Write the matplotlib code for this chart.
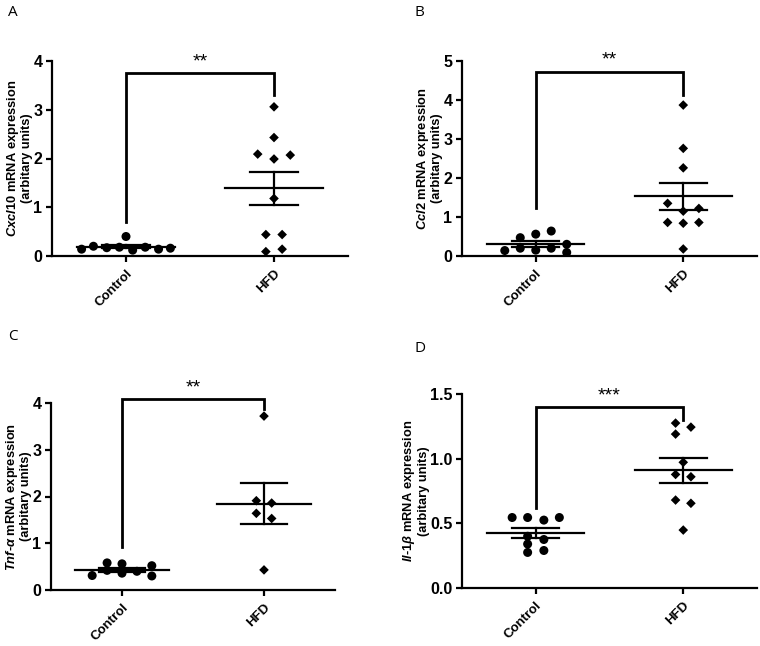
import numpy as np
import matplotlib
matplotlib.use("Agg")
import matplotlib.pyplot as plt

plt.rcParams['font.family'] = ['Liberation Sans', 'DejaVu Sans']
plt.rcParams['mathtext.fontset'] = 'custom'
plt.rcParams['mathtext.it'] = 'Liberation Sans:italic:bold'
plt.rcParams['mathtext.rm'] = 'Liberation Sans:bold'

groups = ["Control", "HFD"]

# A - Cxcl10
a_ctrl = [0.14, 0.20, 0.17, 0.18, 0.40, 0.12, 0.18, 0.14, 0.16]
a_ctrl_dx = [-0.30, -0.22, -0.13, -0.045, 0.0, 0.045, 0.13, 0.22, 0.30]
a_hfd = [3.06, 2.43, 2.09, 2.07, 1.99, 1.18, 0.44, 0.44, 0.09, 0.14]
a_hfd_dx = [0.0, 0.0, -0.11, 0.11, 0.0, 0.0, -0.055, 0.055, -0.055, 0.055]

# B - Ccl2
b_ctrl = [0.14, 0.47, 0.20, 0.56, 0.15, 0.64, 0.20, 0.30, 0.09]
b_ctrl_dx = [-0.21, -0.105, -0.105, 0.0, 0.0, 0.105, 0.105, 0.21, 0.21]
b_hfd = [3.87, 2.76, 2.26, 1.35, 1.15, 1.22, 0.86, 0.84, 0.86, 0.18]
b_hfd_dx = [0.0, 0.0, 0.0, -0.106, 0.0, 0.106, -0.106, 0.0, 0.106, 0.0]

# C - Tnf-alpha
c_ctrl = [0.31, 0.58, 0.42, 0.56, 0.36, 0.40, 0.52, 0.30]
c_ctrl_dx = [-0.21, -0.105, -0.105, 0.0, 0.0, 0.105, 0.21, 0.21]
c_hfd = [3.72, 1.91, 1.86, 1.64, 1.53, 0.43]
c_hfd_dx = [0.0, -0.054, 0.054, -0.054, 0.054, 0.0]

# D - Il-1beta
d_ctrl = [0.545, 0.545, 0.40, 0.34, 0.275, 0.525, 0.375, 0.29, 0.545]
d_ctrl_dx = [-0.16, -0.055, -0.055, -0.055, -0.055, 0.055, 0.055, 0.055, 0.16]
d_hfd = [1.275, 1.244, 1.19, 0.972, 0.878, 0.86, 0.68, 0.655, 0.448]
d_hfd_dx = [-0.052, 0.052, -0.052, 0.0, -0.052, 0.052, -0.052, 0.052, 0.0]

# bracket levels (top, left foot, right foot)
a_bracket = [3.75, 0.70, 3.30]
b_bracket = [4.73, 1.22, 4.13]
c_bracket = [4.08, 0.92, 3.87]
d_bracket = [1.40, 0.62, 1.30]


def panel(rect, ctrl, ctrl_dx, hfd, hfd_dx, ylim, yticks, yticklabels,
          ylabel, bracket, stars):
    ax = fig.add_axes(rect)
    ax.scatter(np.array(ctrl_dx), ctrl, marker='o', s=42, color='black',
               edgecolors='none', zorder=3, clip_on=False)
    ax.scatter(1 + np.array(hfd_dx), hfd, marker='D', s=24, color='black',
               edgecolors='none', zorder=3, clip_on=False)
    for i, vals in enumerate([ctrl, hfd]):
        vals = np.array(vals)
        m = vals.mean()
        sem = vals.std(ddof=1) / np.sqrt(len(vals))
        ax.plot([i - 0.33, i + 0.33], [m, m], color='black', lw=1.6, zorder=4)
        ax.plot([i - 0.16, i + 0.16], [m + sem] * 2, color='black', lw=1.6, zorder=4)
        ax.plot([i - 0.16, i + 0.16], [m - sem] * 2, color='black', lw=1.6, zorder=4)
        ax.plot([i, i], [m - sem, m + sem], color='black', lw=1.6, zorder=4)
    top, left, right = bracket
    ax.plot([0, 0, 1, 1], [left, top, top, right], color='black', lw=2.0,
            clip_on=False, solid_joinstyle='miter')
    ax.text(0.5, top + (ylim[1] - ylim[0]) * 0.015, stars, ha='center',
            va='bottom', fontsize=14)
    ax.set_xlim(-0.5, 1.5)
    ax.set_ylim(*ylim)
    ax.set_yticks(yticks)
    ax.set_yticklabels(yticklabels, fontsize=11.5, fontweight='bold')
    ax.set_xticks([0, 1])
    ax.set_xticklabels(groups, rotation=45, ha='right', rotation_mode='anchor',
                       fontsize=9.5, fontweight='bold')
    ax.spines['top'].set_visible(False)
    ax.spines['right'].set_visible(False)
    for s in ['left', 'bottom']:
        ax.spines[s].set_linewidth(1.6)
    ax.tick_params(direction='out', length=4, width=1.6, pad=3)
    ax.tick_params(axis='x', pad=4)
    ax.set_ylabel(ylabel + "\n(arbitary units)", fontsize=9.3,
                  fontweight='bold', labelpad=0, linespacing=1.05)
    return ax


fig = plt.figure(figsize=(7.6, 6.46), dpi=100)
W, H = 760.0, 646.0


def rect(l, r, t, b):
    return [l / W, 1 - b / H, (r - l) / W, (b - t) / H]


panel(rect(52, 348, 61, 256), a_ctrl, a_ctrl_dx, a_hfd, a_hfd_dx,
      (0, 4), [0, 1, 2, 3, 4], ["0", "1", "2", "3", "4"],
      r"$\mathit{Cxcl10}$ mRNA expression", a_bracket, "**")
panel(rect(462, 757, 61, 256), b_ctrl, b_ctrl_dx, b_hfd, b_hfd_dx,
      (0, 5), [0, 1, 2, 3, 4, 5], ["0", "1", "2", "3", "4", "5"],
      r"$\mathit{Ccl2}$ mRNA expression", b_bracket, "**")
panel(rect(51, 335, 403, 590), c_ctrl, c_ctrl_dx, c_hfd, c_hfd_dx,
      (0, 4), [0, 1, 2, 3, 4], ["0", "1", "2", "3", "4"],
      r"$\mathit{Tnf}$-$\mathit{α}$ mRNA expression", c_bracket, "**")
panel(rect(462, 757, 394, 588), d_ctrl, d_ctrl_dx, d_hfd, d_hfd_dx,
      (0, 1.5), [0, 0.5, 1.0, 1.5], ["0.0", "0.5", "1.0", "1.5"],
      r"$\mathit{Il}$-$\mathit{1β}$ mRNA expression", d_bracket, "***")

for lab, x, y in [("A", 8, 12), ("B", 415, 12), ("C", 8, 337), ("D", 415, 348)]:
    fig.text(x / W, 1 - y / H, lab, fontsize=11, family='Open Sans',
             ha='left', va='center')

fig.savefig("out.png", dpi=100)
